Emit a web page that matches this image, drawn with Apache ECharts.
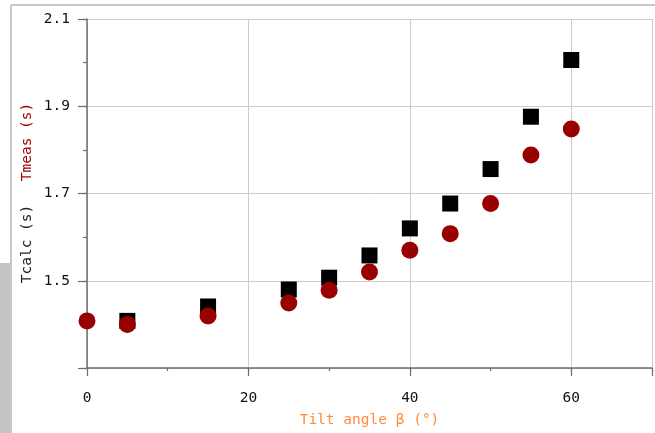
<!DOCTYPE html>
<html>
<head>
<meta charset="utf-8">
<script src="https://cdn.jsdelivr.net/npm/echarts@6/dist/echarts.min.js"></script>
<style>
html, body { margin: 0; padding: 0; background: #fff; }
#chart { width: 655px; height: 433px; }
</style>
</head>
<body>
<div id="chart"></div>
<script>
// tilt angle (deg) and periods (s)
const calcAngles = [5, 15, 25, 30, 35, 40, 45, 50, 55, 60]
const tcalc = [1.408, 1.441, 1.480, 1.507, 1.558, 1.620, 1.677, 1.756, 1.876, 2.006]
const measAngles = [0, 5, 15, 25, 30, 35, 40, 45, 50, 55, 60]
const tmeas = [1.408, 1.400, 1.419, 1.449, 1.478, 1.520, 1.570, 1.608, 1.677, 1.788, 1.848]
const yLabels = ['1.5', '1.7', '1.9', '2.1']
const xLabels = ['0', '20', '40', '60']

const mono = 'DejaVu Sans Mono'
const axisColor = '#6e6e6e'

const chart = echarts.init(document.getElementById('chart'))

const option = {
  animation: false,
  grid: { left: 87, right: 1, top: 19, bottom: 60 },
  xAxis: [{
    type: 'value', min: 0, max: 70, interval: 20,
    axisLine: { lineStyle: { color: axisColor, width: 1.5 } },
    axisTick: { length: 8, lineStyle: { color: axisColor, width: 1.2 } },
    splitLine: { lineStyle: { color: '#cccccc', width: 1 } },
    axisLabel: {
      margin: 23, color: '#111', fontFamily: mono, fontSize: 14.5,
      formatter: v => xLabels.includes(String(v)) ? String(v) : ''
    },
    name: 'Tilt angle β (°)', nameLocation: 'middle', nameGap: 45,
    nameTextStyle: { color: '#ff8c3c', fontFamily: mono, fontSize: 14.5 }
  }, {
    type: 'value', min: 0, max: 70, interval: 10, position: 'bottom',
    axisLine: { show: false },
    axisTick: { length: 3, lineStyle: { color: axisColor, width: 1.2 } },
    splitLine: { show: false },
    axisLabel: { show: false }
  }],
  yAxis: [{
    type: 'value', min: 1.3, max: 2.1, interval: 0.2,
    axisLine: { show: true, lineStyle: { color: axisColor, width: 1.5 } },
    axisTick: { show: true, length: 9, lineStyle: { color: axisColor, width: 1.2 } },
    splitLine: { lineStyle: { color: '#cccccc', width: 1 } },
    axisLabel: {
      margin: 17, color: '#111', fontFamily: mono, fontSize: 14.5,
      formatter: v => {
        const s = (Math.round(v * 10) / 10).toFixed(1)
        return yLabels.includes(s) ? s : ''
      }
    }
  }, {
    type: 'value', min: 1.3, max: 2.1, interval: 0.1, position: 'left',
    axisLine: { show: false },
    axisTick: { show: true, length: 4, lineStyle: { color: axisColor, width: 1.2 } },
    splitLine: { show: false },
    axisLabel: { show: false }
  }],
  graphic: [
    { type: 'rect', shape: { x: 0, y: 263, width: 11, height: 170 }, style: { fill: '#c4c4c4' }, z: 0 },
    { type: 'line', shape: { x1: 11, y1: 5, x2: 655, y2: 5 }, style: { stroke: '#c8c8c8', lineWidth: 2 } },
    { type: 'line', shape: { x1: 11, y1: 5, x2: 11, y2: 433 }, style: { stroke: '#c8c8c8', lineWidth: 2 } },
    {
      type: 'text', x: 27, y: 244, rotation: Math.PI / 2,
      style: { text: 'Tcalc (s)', fill: '#222', font: '14.5px "DejaVu Sans Mono"', align: 'center', verticalAlign: 'middle' }
    },
    {
      type: 'text', x: 27, y: 142, rotation: Math.PI / 2,
      style: { text: 'Tmeas (s)', fill: '#990000', font: '14.5px "DejaVu Sans Mono"', align: 'center', verticalAlign: 'middle' }
    }
  ],
  series: [{
    name: 'Tcalc', type: 'scatter', symbol: 'rect', symbolSize: 16,
    data: calcAngles.map((a, i) => [a, tcalc[i]]),
    itemStyle: { color: '#000', opacity: 1 },
    clip: true
  }, {
    name: 'Tmeas', type: 'scatter', symbol: 'circle', symbolSize: 17,
    data: measAngles.map((a, i) => [a, tmeas[i]]),
    itemStyle: { color: '#990000', opacity: 1 },
    clip: true
  }]
}

chart.setOption(option, true)
</script>
</body>
</html>
